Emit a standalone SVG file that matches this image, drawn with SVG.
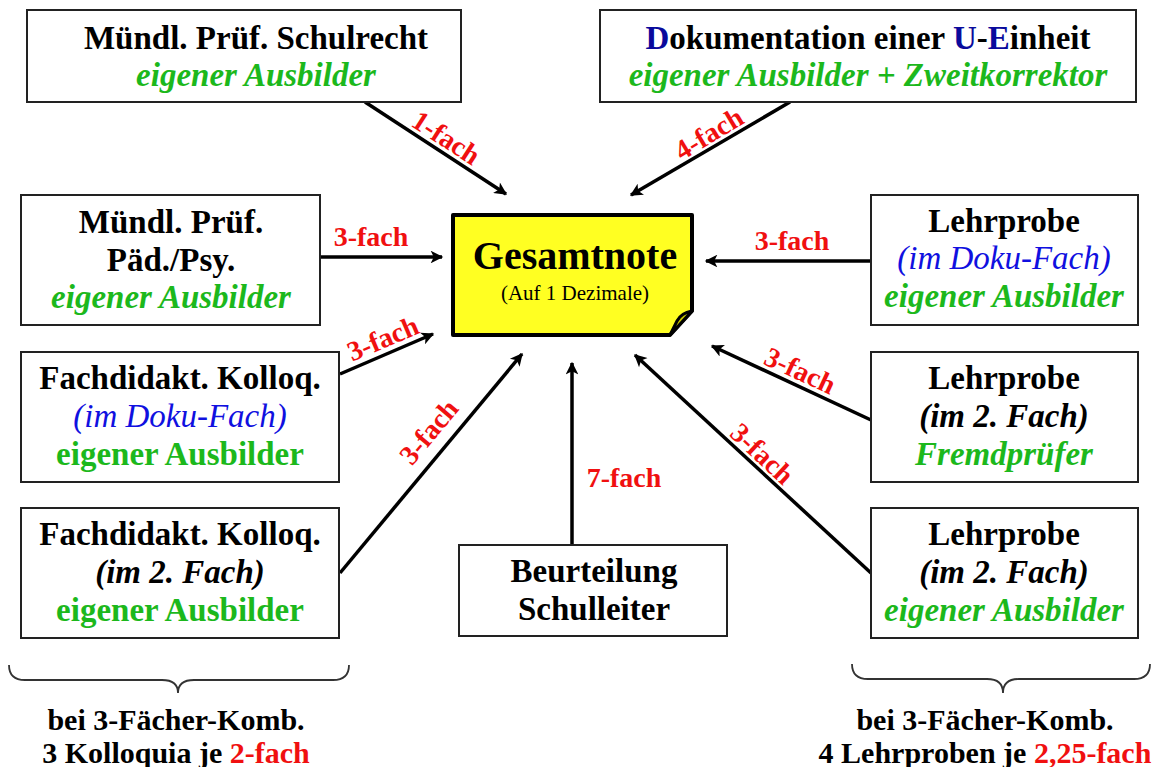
<svg xmlns="http://www.w3.org/2000/svg" width="1153" height="767" viewBox="0 0 1153 767">
<defs>
<marker id="ah" viewBox="0 0 10 10" refX="9" refY="5" markerWidth="4.2" markerHeight="3.6" orient="auto" markerUnits="strokeWidth">
<path d="M0,0 L10,5 L0,10 L2.5,5 Z" fill="#000"/>
</marker>
<style>
.box{fill:#fff;stroke:#222;stroke-width:2}
.t{font-family:"Liberation Serif","Times New Roman",serif;font-weight:bold;font-size:33px;fill:#000;text-anchor:middle}
.g{fill:#1cb81c}
.i{font-style:italic}
.b{fill:#1010e0;font-weight:normal;font-style:italic}
.db{fill:#0a0a9c}
.r{fill:#f01010}
.s{font-size:30px}
.lab{font-family:"Liberation Serif","Times New Roman",serif;font-weight:bold;font-size:28px;fill:#f01010;text-anchor:middle}
.con{stroke:#000;stroke-width:3.5;fill:none;marker-end:url(#ah)}
.brace{stroke:#333;stroke-width:1.8;fill:none}
</style>
</defs>
<rect width="1153" height="767" fill="#fff"/>

<g id="connectors">
<line class="con" x1="365" y1="102" x2="506" y2="194"/>
<line class="con" x1="790" y1="102" x2="631" y2="195"/>
<line class="con" x1="320" y1="257" x2="442" y2="257"/>
<line class="con" x1="871" y1="261" x2="706" y2="261"/>
<line class="con" x1="340" y1="374" x2="433" y2="334"/>
<line class="con" x1="340" y1="573" x2="522" y2="354"/>
<line class="con" x1="572" y1="545" x2="572" y2="363"/>
<line class="con" x1="871" y1="420" x2="712" y2="346"/>
<line class="con" x1="871" y1="573" x2="635" y2="355"/>
<text class="lab" transform="translate(446,138) rotate(33)" y="9">1-fach</text>
<text class="lab" transform="translate(709,134) rotate(-31)" y="9">4-fach</text>
<text class="lab" x="371" y="246">3-fach</text>
<text class="lab" x="792" y="250">3-fach</text>
<text class="lab" transform="translate(383,339) rotate(-23)" y="9">3-fach</text>
<text class="lab" transform="translate(429,432) rotate(-50)" y="9">3-fach</text>
<text class="lab" x="624" y="487">7-fach</text>
<text class="lab" transform="translate(800,371) rotate(25)" y="9">3-fach</text>
<text class="lab" transform="translate(762,454) rotate(43)" y="9">3-fach</text>
</g>

<g id="gesamtnote">
<path d="M453,215 H692 V311 L670,335 H453 Z" fill="#ffff22" stroke="#000" stroke-width="4" stroke-linejoin="round"/>
<path d="M692,311 Q681,313 677,321 L670,335 Z" fill="#c9c900" stroke="#000" stroke-width="3" stroke-linejoin="round"/>
<text class="t" x="575" y="269" style="font-size:40px">Gesamtnote</text>
<text class="t" x="575" y="300" style="font-size:21px;font-weight:normal">(Auf 1 Dezimale)</text>
</g>

<g id="schulrecht">
<rect class="box" x="27" y="10" width="434" height="92"/>
<text class="t" x="256" y="49">Mündl. Prüf. Schulrecht</text>
<text class="t g i" x="256" y="86">eigener Ausbilder</text>
</g>

<g id="dokumentation">
<rect class="box" x="600" y="10" width="536" height="92"/>
<text class="t" x="868" y="49"><tspan class="db">D</tspan>okumentation einer <tspan class="db">U</tspan>-<tspan class="db">E</tspan>inheit</text>
<text class="t g i" x="868" y="86">eigener Ausbilder + Zweitkorrektor</text>
</g>

<g id="paedpsy">
<rect class="box" x="21" y="195" width="299" height="130"/>
<text class="t" x="171" y="233">Mündl. Prüf.</text>
<text class="t" x="171" y="271">Päd./Psy.</text>
<text class="t g i" x="171" y="308">eigener Ausbilder</text>
</g>

<g id="kolloq-doku">
<rect class="box" x="21" y="352" width="318" height="130"/>
<text class="t" x="180" y="389">Fachdidakt. Kolloq.</text>
<text class="t b" x="180" y="427">(im Doku-Fach)</text>
<text class="t g" x="180" y="465">eigener Ausbilder</text>
</g>

<g id="kolloq-2fach">
<rect class="box" x="21" y="508" width="318" height="130"/>
<text class="t" x="180" y="545">Fachdidakt. Kolloq.</text>
<text class="t i" x="180" y="583">(im 2. Fach)</text>
<text class="t g" x="180" y="621">eigener Ausbilder</text>
</g>

<g id="schulleiter">
<rect class="box" x="459" y="545" width="268" height="91"/>
<text class="t" x="594" y="582">Beurteilung</text>
<text class="t" x="594" y="620">Schulleiter</text>
</g>

<g id="lehrprobe-doku">
<rect class="box" x="871" y="195" width="267" height="130"/>
<text class="t" x="1004" y="232">Lehrprobe</text>
<text class="t b" x="1004" y="269">(im Doku-Fach)</text>
<text class="t g i" x="1004" y="307">eigener Ausbilder</text>
</g>

<g id="lehrprobe-fremd">
<rect class="box" x="871" y="352" width="267" height="130"/>
<text class="t" x="1004" y="389">Lehrprobe</text>
<text class="t i" x="1004" y="427">(im 2. Fach)</text>
<text class="t g i" x="1004" y="465">Fremdprüfer</text>
</g>

<g id="lehrprobe-2fach">
<rect class="box" x="871" y="508" width="267" height="130"/>
<text class="t" x="1004" y="545">Lehrprobe</text>
<text class="t i" x="1004" y="583">(im 2. Fach)</text>
<text class="t g i" x="1004" y="621">eigener Ausbilder</text>
</g>

<g id="summary-left">
<path class="brace" d="M9,665 Q9,680 25,680 H162 Q178,680 178,693 Q178,680 194,680 H333 Q349,680 349,665"/>
<text class="t s" x="176" y="730">bei 3-Fächer-Komb.</text>
<text class="t s" x="176" y="763">3 Kolloquia je <tspan class="r">2-fach</tspan></text>
</g>

<g id="summary-right">
<path class="brace" d="M852,664 Q852,679 868,679 H987 Q1003,679 1003,693 Q1003,679 1019,679 H1134 Q1150,679 1150,664"/>
<text class="t s" x="985" y="730">bei 3-Fächer-Komb.</text>
<text class="t s" x="985" y="763">4 Lehrproben je <tspan class="r">2,25-fach</tspan></text>
</g>
</svg>
